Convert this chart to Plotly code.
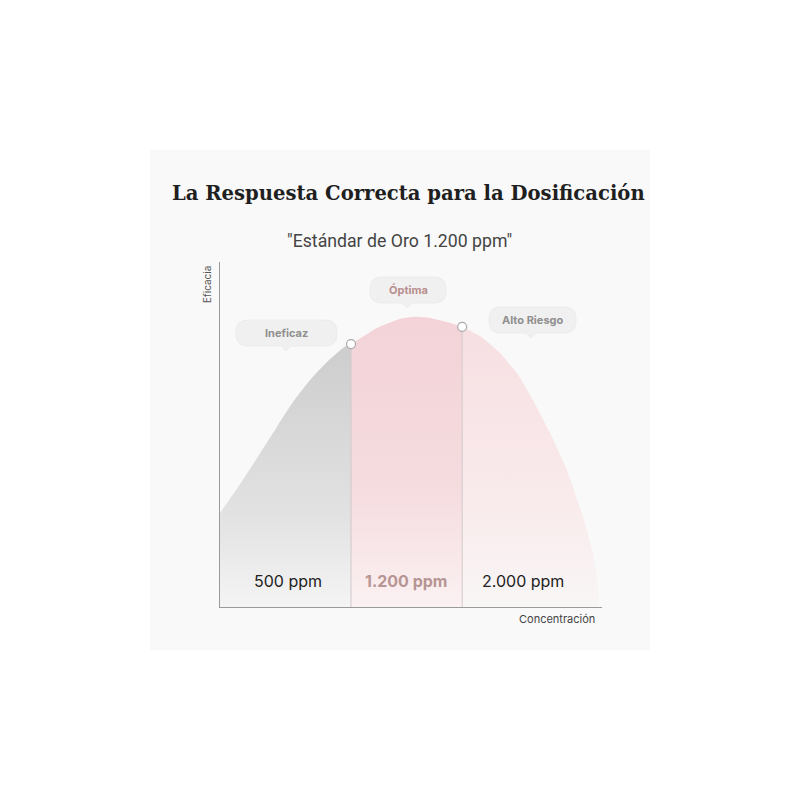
import plotly.graph_objects as go

# ---------------- data ----------------
curve_x = [0, 6.0, 10.5, 14.9, 19.1, 23.6, 28.0, 32.2, 34.3, 41.1, 47.1, 51.0, 55.0, 59.4, 63.4,
           68.8, 73.3, 77.7, 81.9, 86.4, 90.8, 95.0, 97.6, 99.0]
curve_y = [27.2, 36.8, 44.6, 52.2, 59.4, 65.8, 71.0, 75.1, 76.2, 80.9, 83.5, 84.1, 83.8, 82.6, 81.2,
           78.0, 73.6, 67.8, 60.0, 50.4, 39.7, 26.1, 15.7, 6.0]
boundaries = [34.3, 63.4]          # dose thresholds (x)
region_labels = ["500 ppm", "1.200 ppm", "2.000 ppm"]
region_label_x = [17.8, 48.7, 79.3]
region_label_y = 7.5
callout_texts = ["Ineficaz", "Óptima", "Alto Riesgo"]

title_text = "La Respuesta Correcta para la Dosificación"
subtitle_text = "\"Estándar de Oro 1.200 ppm\""
x_title = "Concentración"
y_title = "Eficacia"

# ---------------- layout geometry (page pixels) ----------------
W, H = 800, 800
OFF = 8  # default body margin of the page
L, R, T, B = 220, 602, 262, 607


def px2x(px):
    return (px - L) / (R - L)


def py2y(py):
    return (B - py) / (B - T)


def interp(x):
    for i in range(len(curve_x) - 1):
        if curve_x[i] <= x <= curve_x[i + 1]:
            t = (x - curve_x[i]) / (curve_x[i + 1] - curve_x[i])
            return curve_y[i] + t * (curve_y[i + 1] - curve_y[i])
    return curve_y[-1]


def segment(x0, x1):
    xs = [x0] + [x for x in curve_x if x0 < x < x1] + [x1]
    ys = [interp(x) for x in xs]
    return xs, ys


fig = go.Figure()

edges = [curve_x[0]] + boundaries + [curve_x[-1]]
fills = [
    [[0, "#f4f4f4"], [0.35, "#e2e2e2"], [1, "#cdcdcd"]],
    [[0, "#fbf1f2"], [0.4, "#f5dcdf"], [1, "#f3d3d7"]],
    [[0, "#f9f6f6"], [0.35, "#f9ebec"], [1, "#f7dfe2"]],
]
for i in range(3):
    xs, ys = segment(edges[i], edges[i + 1])
    fig.add_trace(go.Scatter(
        x=xs, y=ys, mode="lines", line=dict(width=0, shape="spline", smoothing=0.5),
        fill="tozeroy",
        fillgradient=dict(type="vertical", colorscale=fills[i]),
        hoverinfo="skip", showlegend=False))

# dividers
for bx in boundaries:
    fig.add_trace(go.Scatter(
        x=[bx, bx], y=[0, interp(bx)], mode="lines",
        line=dict(color="#d3c9ca", width=1), hoverinfo="skip", showlegend=False))

# threshold markers
fig.add_trace(go.Scatter(
    x=boundaries, y=[interp(b) for b in boundaries], mode="markers",
    marker=dict(size=9, color="white", line=dict(color="#a9a9a9", width=1.2)),
    hoverinfo="skip", showlegend=False))

# region labels
label_colors = ["#222222", "#b79594", "#222222"]
label_weights = ["normal", "bold", "normal"]
for t, x, c, w in zip(region_labels, region_label_x, label_colors, label_weights):
    fig.add_annotation(x=x, y=region_label_y, text=t, showarrow=False,
                       xanchor="center", yanchor="middle",
                       font=dict(family="Inter, Open Sans, sans-serif", size=16, color=c, weight=w))

shapes = []
# background panel
shapes.append(dict(type="rect", xref="paper", yref="paper",
                   x0=px2x(150), x1=px2x(650), y0=py2y(650), y1=py2y(150),
                   fillcolor="#f9f9f9", line=dict(width=0), layer="below"))


def pill(x0, x1, y0, y1, tail_x, r=12, tail=5):
    def P(px, py):
        return f"{px2x(px):.5f},{py2y(py):.5f}"
    p = (f"M{P(x0 + r, y0)} L{P(x1 - r, y0)} Q{P(x1, y0)} {P(x1, y0 + r)} "
         f"L{P(x1, y1 - r)} Q{P(x1, y1)} {P(x1 - r, y1)} "
         f"L{P(tail_x + tail, y1)} L{P(tail_x, y1 + tail)} L{P(tail_x - tail, y1)} "
         f"L{P(x0 + r, y1)} Q{P(x0, y1)} {P(x0, y1 - r)} "
         f"L{P(x0, y0 + r)} Q{P(x0, y0)} {P(x0 + r, y0)} Z")
    return dict(type="path", xref="paper", yref="paper", path=p,
                fillcolor="#f0f0f0", line=dict(color="#ececec", width=1), layer="above")


boxes = [(236, 337, 320, 346, 286), (370, 446, 277, 303, 407), (489, 576, 307, 333, 531)]
callout_colors = ["#8f8f8f", "#b78f8e", "#8f8f8f"]
for (x0, x1, y0, y1, tx), txt, col in zip(boxes, callout_texts, callout_colors):
    shapes.append(pill(x0, x1, y0, y1, tx))
    fig.add_annotation(xref="paper", yref="paper", x=px2x((x0 + x1) / 2), y=py2y((y0 + y1) / 2),
                       xanchor="center", yanchor="middle",
                       text=txt, showarrow=False,
                       font=dict(family="Inter, Open Sans, sans-serif", size=11, color=col, weight="bold"))


def text_at(px, py, txt, font, angle=0):
    fig.add_annotation(xref="paper", yref="paper", x=px2x(px), y=py2y(py), text=txt,
                       showarrow=False, xanchor="center", yanchor="middle",
                       textangle=angle, font=font)


text_at(408, 193, title_text,
        dict(family="DejaVu Serif, serif", size=19.6, color="#1f1f1f", weight="bold"))
text_at(399, 241, subtitle_text, dict(family="Roboto, sans-serif", size=17.7, color="#444444"))
text_at(557, 619, x_title, dict(family="Inter, Open Sans, sans-serif", size=11, color="#444444"))
text_at(207, 285, y_title, dict(family="Inter, Open Sans, sans-serif", size=10, color="#555555"), -90)

fig.update_layout(
    width=W, height=H,
    margin=dict(l=L - OFF, r=W - (R - OFF), t=T - OFF, b=H - (B - OFF), pad=0),
    paper_bgcolor="white", plot_bgcolor="rgba(0,0,0,0)",
    shapes=shapes,
    xaxis=dict(range=[0, 100], showgrid=False, zeroline=False, showticklabels=False, ticks="",
               showline=True, linecolor="#9a9a9a", linewidth=1.3),
    yaxis=dict(range=[0, 100], showgrid=False, zeroline=False, showticklabels=False, ticks="",
               showline=True, linecolor="#9a9a9a", linewidth=1.3),
)

fig.write_html("out.html")
